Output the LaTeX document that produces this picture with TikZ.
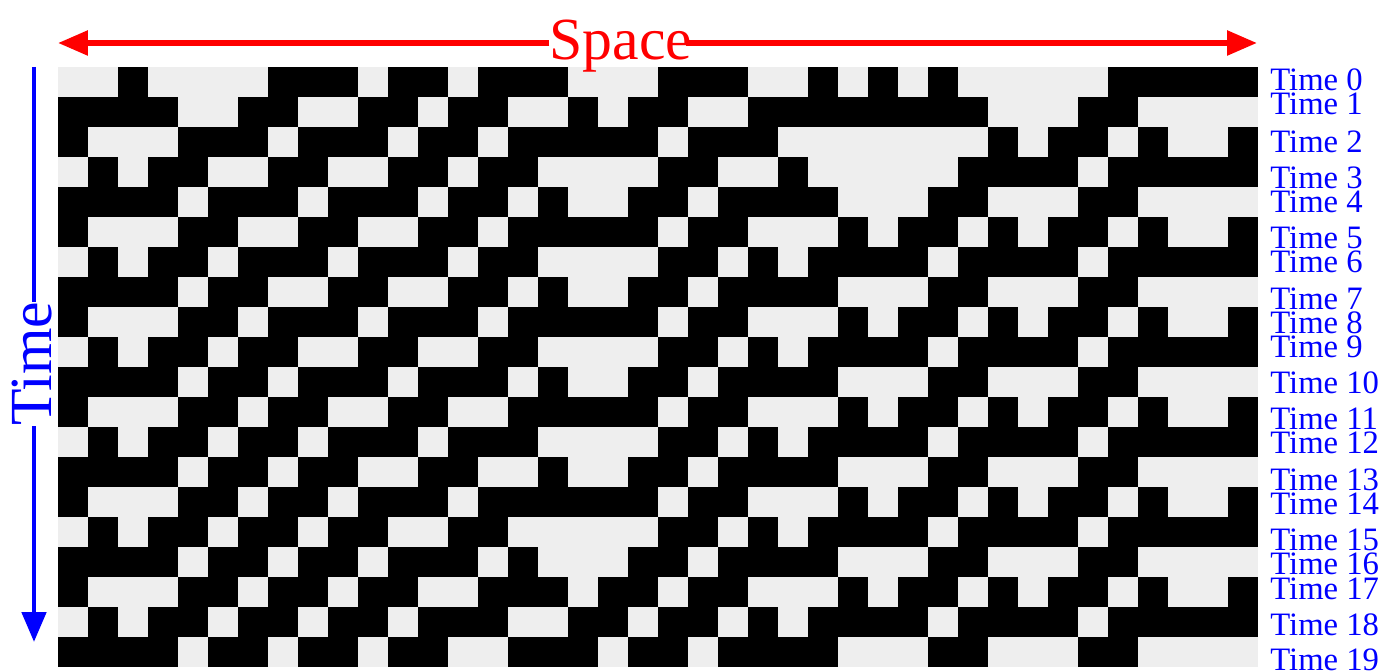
\documentclass[tikz,border=0pt]{standalone}
\usepackage{fontspec}
\setmainfont{Liberation Serif}
\usetikzlibrary{arrows.meta,calc,positioning}
\definecolor{cellgray}{RGB}{238,238,238}
\definecolor{spacered}{RGB}{255,0,0}
\definecolor{timeblue}{RGB}{0,0,255}

% first row of the automaton (rule 62, 40 cells, wrapped)
\def\startrow{0,0,1,0,0,0,0,1,1,1,0,1,1,0,1,1,1,0,0,0,1,1,1,0,0,1,0,1,0,1,0,0,0,0,0,1,1,1,1,1}

\tikzset{
  timelabel/.style={anchor=west,inner sep=0pt,text=timeblue,font=\fontsize{18.6}{20}\selectfont},
  bigword/.style={inner sep=0pt,font=\fontsize{34}{40}\selectfont},
  spacearrow/.style={draw=spacered,line width=3.2pt,-{Triangle[length=0.6cm,width=0.48cm]}},
  timearrow/.style={draw=timeblue,line width=2.8pt},
}

\begin{document}
\begin{tikzpicture}[x=0.02cm,y=-0.02cm]
  \useasboundingbox (0,0) rectangle (1384,671);

  % cells
  \foreach \v [count=\col from 0] in \startrow{
    \expandafter\xdef\csname ca0-\col\endcsname{\v}
  }
  \foreach \row in {1,...,19}{
    \pgfmathtruncatemacro{\prev}{\row-1}
    \foreach \col in {0,...,39}{
      \pgfmathtruncatemacro{\cleft}{mod(\col+39,40)}
      \pgfmathtruncatemacro{\cright}{mod(\col+1,40)}
      \edef\lv{\csname ca\prev-\cleft\endcsname}
      \edef\mv{\csname ca\prev-\col\endcsname}
      \edef\rv{\csname ca\prev-\cright\endcsname}
      \pgfmathtruncatemacro{\nv}{((\lv+\mv+\rv)>0)*((\lv*\mv)==0)}
      \expandafter\xdef\csname ca\row-\col\endcsname{\nv}
    }
  }
  \fill[cellgray] (58,67) rectangle (1258,667);
  \foreach \row in {0,...,19}{
    \foreach \col in {0,...,39}{
      \ifnum\csname ca\row-\col\endcsname=1
        \fill[black] (58+30*\col,67+30*\row) rectangle ++(30.4,30.4);
      \fi
    }
  }

  % space arrow
  \node[bigword,text=spacered,anchor=base] (space) at (621,60) {Space};
  \coordinate (sleft) at (58,43);
  \coordinate (sright) at (1257,43);
  \draw[spacearrow] (space.west |- sleft) -- (sleft);
  \draw[spacearrow] ($(space.east |- sright)+(-7,0)$) -- (sright);

  % time arrow
  \node[bigword,text=timeblue,rotate=90] (time) at (32,364) {Time};
  \coordinate (ttop) at (34,67);
  \coordinate (tbot) at (34,642);
  \draw[timearrow] (ttop) -- (ttop |- time.east);
  \draw[timearrow,-{Triangle[length=0.6cm,width=0.48cm]}] (ttop |- time.west) -- (tbot);

  % labels
  \foreach \t/\y in {0/80,1/104,2/142,3/178,4/202,5/238,6/262,7/299,8/323,9/347,
                     10/383,11/419,12/443,13/480,14/504,15/540,16/564,17/589,18/625,19/660}{
    \node[timelabel] (time\t) at (1270,\y) {Time \t};
  }
\end{tikzpicture}
\end{document}
